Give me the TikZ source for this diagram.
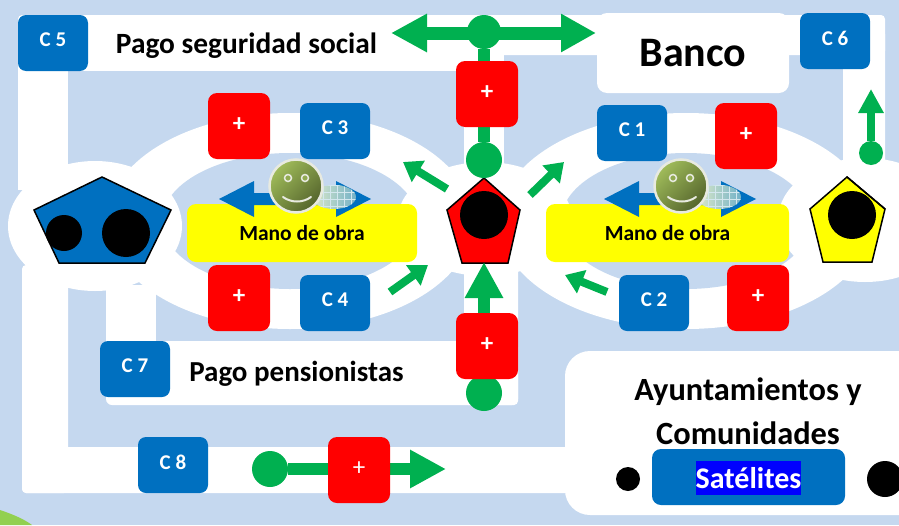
\documentclass[tikz,border=0pt]{standalone}
\usepackage{fontspec}
\setmainfont{Carlito}
\usetikzlibrary{arrows.meta}

\definecolor{skyback}{RGB}{197,216,239}
\definecolor{cblue}{RGB}{0,112,192}
\definecolor{mygreen}{RGB}{0,176,80}
\definecolor{limecorner}{RGB}{146,208,80}
\definecolor{plusred}{RGB}{255,0,0}
\definecolor{manoyellow}{RGB}{255,255,0}
\definecolor{satblue}{RGB}{0,0,255}
\definecolor{ballA}{RGB}{160,188,90}
\definecolor{ballB}{RGB}{84,100,44}
\definecolor{ballring}{RGB}{232,234,224}
\definecolor{hatchA}{RGB}{226,236,200}
\definecolor{hatchB}{RGB}{110,175,200}

\tikzset{
  cbox/.style={rectangle, rounded corners=8pt, fill=cblue, text=white, minimum width=70pt, minimum height=56pt, inner sep=0pt, text depth=6pt, font=\fontsize{21}{21}\selectfont\bfseries},
  plusbox/.style={rectangle, rounded corners=9pt, fill=plusred, text=white, minimum width=62pt, minimum height=66pt, inner sep=0pt, text depth=3pt, font=\fontsize{25}{25}\selectfont\bfseries},
  manobox/.style={rectangle, rounded corners=9pt, fill=manoyellow, minimum height=58pt, inner sep=0pt, font=\fontsize{21.5}{21.5}\selectfont\bfseries},
  whitebox/.style={rectangle, fill=white, inner sep=0pt},
  title/.style={inner sep=0pt, font=\fontsize{#1}{#1}\selectfont\bfseries},
  greendot/.style={circle, fill=mygreen, inner sep=0pt, minimum size=#1},
  blackdot/.style={circle, fill=black, inner sep=0pt, minimum size=#1},
  thickflow/.style={draw=mygreen, line width=12pt},
  bigflow/.style={thickflow, -{Triangle[length=36pt, width=36pt]}},
  smallflow/.style={draw=mygreen, line width=8pt, -{Triangle[length=18pt, width=24pt]}},
  penta/.style={draw=black, line width=1.5pt, line join=miter},
  worker/.pic={
    \draw[draw=none, fill=cblue] (-76,0) -- (-41,-18) -- (-41,-6) -- (41,-6) -- (41,-18) -- (76,0) -- (41,18) -- (41,6) -- (-41,6) -- (-41,18) -- cycle;
    \begin{scope}
      \clip (39,-2) ellipse [x radius=22pt, y radius=12pt];
      \shade[left color=hatchA, right color=hatchB] (15,-16) rectangle (63,12);
      \draw[white!70!hatchB, line width=0.6pt] (17,-16) grid[step=7pt] (63,12);
    \end{scope}
    \node at (1,-13) [circle, draw=ballring, line width=2.5pt, minimum size=53pt, inner sep=0pt, top color=ballA, bottom color=ballB, shading angle=45] (ball) {};
    \draw[ballring, fill=ballA!80!ballB, line width=1.5pt] (-7,-21) circle [radius=3.5pt];
    \draw[ballring, fill=ballA!80!ballB, line width=1.5pt] (10,-21) circle [radius=3.5pt];
    \draw[ballring, line width=2pt, line cap=round] (-12,-2) .. controls (-4,4) and (8,4) .. (16,-2);
  }
}

\begin{document}
\begin{tikzpicture}[x=1pt, y=-1pt]
\useasboundingbox (0,0) rectangle (899,525);
\fill[skyback] (0,0) rectangle (899,525);
\fill[limecorner] (0,510) .. controls (12,514) and (24,519) .. (32,525) -- (0,525) -- cycle;

\fill[white, rounded corners=4pt] (18,15) rectangle (885,55);
\fill[white] (18,50) rectangle (464,71);
\fill[white] (18,60) rectangle (68,190);
\fill[white, rounded corners=4pt] (843,30) rectangle (885,175);
\fill[white] (464,50) rectangle (504,165);
\fill[white, rounded corners=4pt] (22,265) rectangle (68,493);
\fill[white, rounded corners=4pt] (22,447) rectangle (600,493);
\fill[white] (106,285) rectangle (156,350);
\fill[white, rounded corners=6pt] (106,341) rectangle (518,405);
\fill[white, rounded corners=4pt] (464,262) rectangle (518,405);

\fill[white] (290,221) ellipse [x radius=183pt, y radius=108pt];
\fill[skyback] (290,221) ellipse [x radius=128pt, y radius=68pt];
\fill[white] (686,221) ellipse [x radius=187pt, y radius=108pt];
\fill[skyback] (686,221) ellipse [x radius=125pt, y radius=68pt];
\fill[white] (95,226) ellipse [x radius=87pt, y radius=65pt];
\fill[white] (485,219) ellipse [x radius=87pt, y radius=57pt];
\fill[white] (865,220) ellipse [x radius=87pt, y radius=62pt];

\node at (693,53) [whitebox, rounded corners=10pt, minimum width=192pt, minimum height=80pt, title=42] (banco) {Banco};
\node at (750,433) [whitebox, rounded corners=25pt, minimum width=370pt, minimum height=164pt] (ayto) {};
\node at (748,411) [inner sep=0pt, align=center, font=\fontsize{32.4}{44}\selectfont\bfseries] (aytotext) {Ayuntamientos y\\Comunidades};
\node at (748.5,477) [rectangle, rounded corners=9pt, fill=cblue, minimum width=193pt, minimum height=56pt] (satbox) {};
\node at (748.5,478) [rectangle, fill=satblue, text=white, minimum width=105pt, minimum height=34pt, inner sep=0pt, font=\fontsize{30}{30}\selectfont\bfseries] (satelites) {Satélites};
\node at (628,479) [blackdot=24pt] (satleft) {};
\node at (885,479) [blackdot=36pt] (satright) {};

\node at (302,233) [manobox, minimum width=230pt] (manoleft) {Mano de obra};
\node at (667.5,233) [manobox, minimum width=243pt] (manoright) {Mano de obra};
\pic at (295,199) {worker};
\pic at (680,199) {worker};

\node at (246.5,46) [title=29.4] (seguridad) {Pago seguridad social};
\node at (296.5,374) [title=29] (pensionistas) {Pago pensionistas};

\filldraw[penta, fill=cblue] (102,177) -- (171,210) -- (145,263) -- (59,263) -- (34,210) -- cycle;
\node at (64,233) [blackdot=36pt] (blueeyeA) {};
\node at (126,233) [blackdot=48pt] (blueeyeB) {};
\filldraw[penta, fill=plusred] (484,178) -- (520,210) -- (508,263) -- (462,263) -- (447,210) -- cycle;
\node at (484,215) [blackdot=48pt] (redeye) {};
\filldraw[penta, fill=manoyellow] (847,177) -- (885,209) -- (872,262) -- (823,262) -- (810,209) -- cycle;
\node at (852,215) [blackdot=48pt] (yelloweye) {};
\draw[penta] (847,177) -- (885,209);

\node at (484,32) [greendot=34pt] (dottop) {};
\node at (484,160) [greendot=36pt] (dotmiddle) {};
\node at (484,393) [greendot=36pt] (dotbottom) {};
\node at (270,469) [greendot=36pt] (dotpayment) {};
\node at (871,153) [greendot=24pt] (dotbanco) {};

\coordinate (tipleft) at (391,33);
\coordinate (tipright) at (596,33);
\coordinate (tipcentre) at (484,262);
\coordinate (tippayment) at (446,469);
\coordinate (tipbanco) at (871,89);

\draw[thickflow, {Triangle[length=36pt, width=36pt]}-{Triangle[length=35pt, width=36pt]}, line width=13pt] (tipleft) -- (tipright);
\draw[thickflow] (dottop) -- (dotmiddle);
\draw[bigflow] (dotbottom) -- (tipcentre);
\draw[bigflow] (dotpayment) -- (tippayment);
\draw[draw=mygreen, line width=8pt, -{Triangle[length=24pt, width=24pt]}] (dotbanco) -- (tipbanco);

\coordinate (arrowAstart) at (447,189);
\coordinate (arrowAend) at (403,162);
\coordinate (arrowBstart) at (530,195);
\coordinate (arrowBend) at (564,162);
\coordinate (arrowCstart) at (390,292);
\coordinate (arrowCend) at (428,265);
\coordinate (arrowDstart) at (607,292);
\coordinate (arrowDend) at (565,275);
\draw[smallflow] (arrowAstart) -- (arrowAend);
\draw[smallflow] (arrowBstart) -- (arrowBend);
\draw[smallflow] (arrowCstart) -- (arrowCend);
\draw[smallflow] (arrowDstart) -- (arrowDend);

\node at (53,43) [cbox] (C5) {C 5};
\node at (335,131) [cbox] (C3) {C 3};
\node at (632,133) [cbox] (C1) {C 1};
\node at (835,41) [cbox] (C6) {C 6};
\node at (335,303) [cbox] (C4) {C 4};
\node at (654,303) [cbox] (C2) {C 2};
\node at (135,369) [cbox] (C7) {C 7};
\node at (173,465) [cbox] (C8) {C 8};

\node at (239,126) [plusbox] (plusA) {+};
\node at (239,298) [plusbox] (plusB) {+};
\node at (487,94) [plusbox] (plusC) {+};
\node at (487,346) [plusbox] (plusD) {+};
\node at (746,136) [plusbox] (plusE) {+};
\node at (758,298) [plusbox] (plusF) {+};
\node at (359,470) [plusbox, font=\fontsize{25}{25}\selectfont] (plusG) {+};
\end{tikzpicture}
\end{document}
